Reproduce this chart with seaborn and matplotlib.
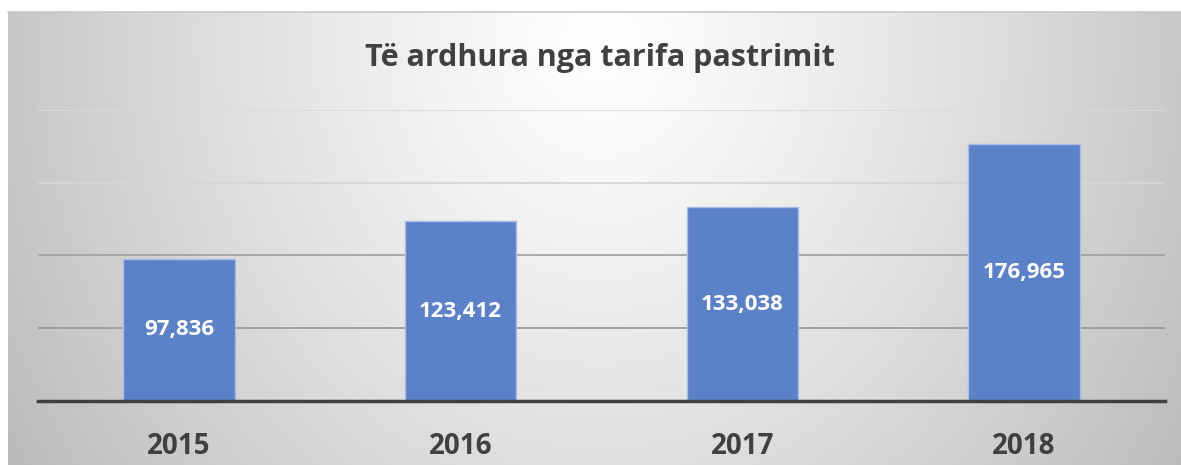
import numpy as np
import pandas as pd
import matplotlib
matplotlib.use("Agg")
import matplotlib.pyplot as plt
import seaborn as sns

# ---- data ----
years = ["2015", "2016", "2017", "2018"]
revenue = [97836, 123412, 133038, 176965]
value_labels = ["97,836", "123,412", "133,038", "176,965"]
title = "Të ardhura nga tarifa pastrimit"
grid_values = [0, 50000, 100000, 150000, 200000]

sns.set_theme(style="white")
plt.rcParams['font.family'] = ['Open Sans', 'DejaVu Sans']

W, H = 1181, 465
fig = plt.figure(figsize=(W / 100, H / 100), dpi=100)
fig.patch.set_facecolor('white')

# background gradient panel
x0, y0 = 8, 12
bg = fig.add_axes([x0 / W, 0, (W - x0) / W, (H - y0) / H])
yy, xx = np.mgrid[y0:H, x0:W].astype(float)
r = np.sqrt(((xx - 600) / 620) ** 2 + ((yy - 40) / 700) ** 2)
v = np.clip(1 - 0.23 * r ** 1.2, 0, 1)
bg.imshow(np.dstack([v, v, v]), aspect='auto', interpolation='bilinear')
bg.set_axis_off()
# faint top border of the chart frame
fig.add_artist(plt.Line2D([x0 / W, 1], [(H - y0) / H, (H - y0) / H],
                          color='#c8c8c8', lw=1.2, transform=fig.transFigure))

# main axes
ax = fig.add_axes([38 / W, 64 / H, (1165 - 38) / W, (401 - 110) / H])
ax.patch.set_alpha(0)
df = pd.DataFrame({"year": years, "revenue": revenue})
sns.barplot(data=df, x="year", y="revenue", color="#5b82c8", saturation=1,
            width=0.395, edgecolor="#a8bde4", linewidth=1, ax=ax, zorder=2)
ax.set_xlim(-0.5, 3.5)
ax.set_ylim(0, 200000)
ax.set_yticks(grid_values)
ax.grid(axis='y', lw=1.3)
ax.set_axisbelow(True)
grid_cols = ['#999999', '#9c9c9c', '#a3a3a3', '#d6d6d6', '#dadada']
for gl, c in zip(ax.get_ygridlines(), grid_cols):
    gl.set_color(c)
ax.tick_params(axis='y', left=False, labelleft=False)
ax.tick_params(axis='x', bottom=False, pad=16, labelsize=20, labelcolor='#404040')
for t in ax.get_xticklabels():
    t.set_fontweight('bold')
ax.set_xlabel('')
ax.set_ylabel('')
for s in ['left', 'right', 'top']:
    ax.spines[s].set_visible(False)
ax.spines['bottom'].set_color('#404040')
ax.spines['bottom'].set_linewidth(2.5)
ax.spines['bottom'].set_zorder(5)

ax.bar_label(ax.containers[0], labels=value_labels, label_type='center',
             color='white', fontweight='bold', fontsize=16)

fig.text(600 / W, 1 - 58 / H, title, ha='center', va='center',
         fontsize=22, fontweight='bold', color='#404040')

fig.savefig("out.png", dpi=100)
